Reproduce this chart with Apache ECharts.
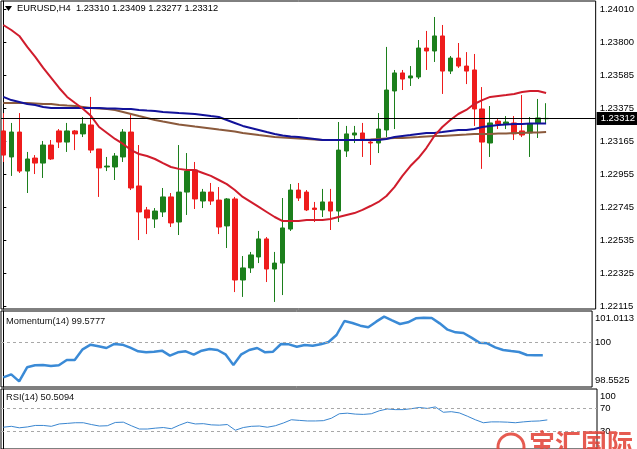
<!DOCTYPE html>
<html>
<head>
<meta charset="utf-8">
<script src="https://cdn.jsdelivr.net/npm/echarts@6/dist/echarts.min.js"></script>
<style>
html, body { margin: 0; padding: 0; background: #fff; }
#main { width: 637px; height: 449px; }
</style>
</head>
<body>
<div id="main"></div>
<script>
// EURUSD H4 - candles are [open, close, low, high]
var symbol = 'EURUSD,H4';
var candles = [
  [1.23232, 1.23078, 1.23034, 1.23346], [1.23066, 1.23225, 1.22945, 1.23283], [1.23225, 1.22976, 1.22964, 1.23346],
  [1.22976, 1.23053, 1.22836, 1.23098], [1.23059, 1.23027, 1.22957, 1.23078], [1.23027, 1.23142, 1.22932, 1.23168],
  [1.23142, 1.23053, 1.23047, 1.23174], [1.23232, 1.23161, 1.23123, 1.23244], [1.23161, 1.23232, 1.23098, 1.23283],
  [1.23232, 1.23213, 1.23110, 1.23238], [1.23213, 1.23276, 1.23193, 1.23321], [1.23270, 1.23110, 1.23091, 1.23449],
  [1.23117, 1.22996, 1.22811, 1.23117], [1.23002, 1.23008, 1.22976, 1.23066], [1.23002, 1.23072, 1.22919, 1.23091],
  [1.23066, 1.23225, 1.23034, 1.23244], [1.23225, 1.22868, 1.22855, 1.23334], [1.22881, 1.22715, 1.22536, 1.23142],
  [1.22728, 1.22677, 1.22574, 1.22747], [1.22670, 1.22721, 1.22613, 1.22740], [1.22715, 1.22811, 1.22683, 1.22868],
  [1.22811, 1.22645, 1.22619, 1.22836], [1.22651, 1.22842, 1.22568, 1.23142], [1.22842, 1.22976, 1.22696, 1.23091],
  [1.22983, 1.22798, 1.22734, 1.23034], [1.22785, 1.22842, 1.22740, 1.22862], [1.22842, 1.22785, 1.22760, 1.22900],
  [1.22791, 1.22619, 1.22574, 1.22874], [1.22626, 1.22798, 1.22485, 1.22804], [1.22798, 1.22281, 1.22204, 1.22811],
  [1.22281, 1.22358, 1.22173, 1.22434], [1.22358, 1.22441, 1.22326, 1.22460], [1.22428, 1.22543, 1.22389, 1.22594],
  [1.22543, 1.22351, 1.22268, 1.22555], [1.22351, 1.22389, 1.22141, 1.22460], [1.22389, 1.22613, 1.22185, 1.22804],
  [1.22606, 1.22855, 1.22594, 1.22893], [1.22855, 1.22804, 1.22785, 1.22900], [1.22842, 1.22728, 1.22721, 1.22855],
  [1.22740, 1.22731, 1.22651, 1.22779], [1.22728, 1.22779, 1.22683, 1.22862], [1.22779, 1.22721, 1.22600, 1.22862],
  [1.22721, 1.23110, 1.22651, 1.23289], [1.23104, 1.23213, 1.23066, 1.23264], [1.23206, 1.23219, 1.23155, 1.23264],
  [1.23219, 1.23181, 1.23066, 1.23283], [1.23161, 1.23155, 1.23015, 1.23174], [1.23155, 1.23244, 1.23091, 1.23346],
  [1.23238, 1.23493, 1.23193, 1.23768], [1.23487, 1.23602, 1.23244, 1.23621], [1.23602, 1.23563, 1.23493, 1.23621],
  [1.23570, 1.23583, 1.23519, 1.23646], [1.23576, 1.23761, 1.23563, 1.23812], [1.23761, 1.23742, 1.23621, 1.23870],
  [1.23742, 1.23838, 1.23672, 1.23959], [1.23838, 1.23614, 1.23468, 1.23908], [1.23614, 1.23697, 1.23595, 1.23710],
  [1.23697, 1.23646, 1.23634, 1.23793], [1.23646, 1.23614, 1.23531, 1.23735], [1.23621, 1.23372, 1.23264, 1.23723],
  [1.23372, 1.23161, 1.22990, 1.23512], [1.23155, 1.23283, 1.23066, 1.23391], [1.23295, 1.23276, 1.23244, 1.23308],
  [1.23276, 1.23289, 1.23244, 1.23327], [1.23283, 1.23213, 1.23174, 1.23327], [1.23232, 1.23206, 1.23193, 1.23461],
  [1.23219, 1.23276, 1.23066, 1.23321], [1.23283, 1.23315, 1.23187, 1.23436], [1.23310, 1.23312, 1.23277, 1.23409]
];

// moving averages (red fast, blue, brown slow)
var maRed = [1.23908, 1.23876, 1.23838, 1.23768, 1.23704, 1.23634, 1.23570, 1.23506, 1.23449, 1.23410,
  1.23372, 1.23327, 1.23257, 1.23219, 1.23181, 1.23149, 1.23110, 1.23085, 1.23072, 1.23053,
  1.23027, 1.23002, 1.22990, 1.22983, 1.22983, 1.22964, 1.22945, 1.22919, 1.22893, 1.22855,
  1.22811, 1.22779, 1.22747, 1.22715, 1.22683, 1.22657, 1.22657, 1.22657, 1.22664, 1.22664,
  1.22664, 1.22670, 1.22683, 1.22696, 1.22708, 1.22728, 1.22753, 1.22779, 1.22817, 1.22874,
  1.22945, 1.23008, 1.23059, 1.23123, 1.23200, 1.23257, 1.23302, 1.23340, 1.23366, 1.23404,
  1.23429, 1.23449, 1.23455, 1.23461, 1.23468, 1.23480, 1.23487, 1.23487, 1.23474];
var maBlue = [1.23449, 1.23429, 1.23417, 1.23404, 1.23398, 1.23385, 1.23378, 1.23378, 1.23378, 1.23378,
  1.23378, 1.23378, 1.23378, 1.23375, 1.23375, 1.23372, 1.23372, 1.23366, 1.23362, 1.23359,
  1.23353, 1.23350, 1.23346, 1.23343, 1.23340, 1.23334, 1.23327, 1.23321, 1.23302, 1.23283,
  1.23264, 1.23251, 1.23238, 1.23225, 1.23213, 1.23203, 1.23197, 1.23193, 1.23187, 1.23181,
  1.23174, 1.23174, 1.23174, 1.23174, 1.23174, 1.23174, 1.23174, 1.23174, 1.23181, 1.23193,
  1.23200, 1.23206, 1.23213, 1.23219, 1.23219, 1.23225, 1.23232, 1.23238, 1.23238, 1.23244,
  1.23257, 1.23264, 1.23270, 1.23273, 1.23276, 1.23276, 1.23280, 1.23280, 1.23280];
var maBrown = [1.23410, 1.23410, 1.23410, 1.23410, 1.23407, 1.23404, 1.23404, 1.23398, 1.23394, 1.23391,
  1.23385, 1.23378, 1.23375, 1.23372, 1.23366, 1.23353, 1.23340, 1.23327, 1.23315, 1.23302,
  1.23292, 1.23283, 1.23273, 1.23267, 1.23260, 1.23254, 1.23248, 1.23241, 1.23235, 1.23228,
  1.23219, 1.23213, 1.23206, 1.23200, 1.23193, 1.23190, 1.23187, 1.23184, 1.23181, 1.23177,
  1.23174, 1.23174, 1.23174, 1.23174, 1.23174, 1.23174, 1.23177, 1.23181, 1.23184, 1.23187,
  1.23187, 1.23190, 1.23193, 1.23197, 1.23200, 1.23200, 1.23203, 1.23206, 1.23209, 1.23213,
  1.23213, 1.23213, 1.23216, 1.23216, 1.23219, 1.23219, 1.23222, 1.23222, 1.23225];

var momentum = [98.865, 98.962, 98.736, 99.189, 99.254, 99.264, 99.232, 99.254, 99.426, 99.426,
  99.771, 99.922, 99.868, 99.814, 99.944, 99.922, 99.825, 99.706, 99.674, 99.696,
  99.728, 99.566, 99.674, 99.706, 99.599, 99.728, 99.782, 99.750, 99.609, 99.264,
  99.609, 99.750, 99.814, 99.674, 99.696, 99.944, 99.933, 99.857, 99.911, 99.890,
  99.933, 100.008, 100.235, 100.688, 100.623, 100.537, 100.483, 100.666, 100.828, 100.709,
  100.591, 100.645, 100.774, 100.796, 100.785, 100.612, 100.407, 100.321, 100.300, 100.149,
  99.987, 99.965, 99.836, 99.750, 99.717, 99.685, 99.588, 99.577, 99.5777];
var rsi = [37.8, 39.4, 36.8, 38.3, 40.9, 40.9, 39.4, 43.5, 44.5, 45.6,
  45.6, 42.5, 39.9, 40.4, 46.1, 46.6, 40.4, 34.7, 34.7, 36.2,
  37.3, 35.2, 41.4, 46.6, 43.5, 44.0, 41.9, 41.4, 42.5, 32.6,
  37.3, 39.4, 39.9, 37.8, 40.4, 45.1, 50.8, 49.7, 48.7, 48.7,
  49.2, 53.4, 61.2, 62.2, 60.6, 60.1, 61.2, 66.4, 69.5, 68.4,
  68.4, 70.0, 72.1, 70.5, 73.1, 63.8, 64.8, 62.7, 57.0, 50.8,
  45.6, 47.1, 47.1, 46.6, 45.6, 47.1, 48.2, 48.7, 50.5094];

// tick labels
var priceTicks = [1.22115, 1.22325, 1.22535, 1.22745, 1.22955, 1.23165, 1.23375, 1.23585, 1.23800, 1.24010];
var momTicks = [98.5525, 100, 101.0113];
var rsiTicks = [30, 70, 100];
var rsiLevels = [30, 70];

var font = 'Liberation Sans, Arial, sans-serif';
var upColor = '#1c7f1c';
var downColor = '#ee1c1c';

var last = candles[candles.length - 1];
var lastClose = last[1];

function withIndex(arr) {
  return arr.map(function (v, i) { return [i].concat(v); });
}

var xMin = -0.29, xMax = xMin + 596 / 8;

var myChart = echarts.init(document.getElementById('main'), null, { renderer: 'canvas' });

function xAxisFor(idx) {
  return { type: 'value', gridIndex: idx, min: xMin, max: xMax, show: false };
}

var option = {
  animation: false,
  backgroundColor: '#fff',
  grid: [
    { left: 1, top: 1, width: 596, height: 308, show: true, borderColor: '#000', borderWidth: 1 },
    { left: 1, top: 311, width: 596, height: 76, show: true, borderColor: '#000', borderWidth: 1 },
    { left: 1, top: 389, width: 596, height: 67, show: true, borderColor: '#000', borderWidth: 1 }
  ],
  xAxis: [xAxisFor(0), xAxisFor(1), xAxisFor(2)],
  yAxis: [
    {
      type: 'value', gridIndex: 0, position: 'right', min: 1.22096, max: 1.24061,
      axisLine: { show: true, lineStyle: { color: '#000' } },
      axisTick: { show: true, length: 3, customValues: priceTicks, lineStyle: { color: '#000' } },
      axisLabel: {
        customValues: priceTicks, margin: 4, color: '#000', fontSize: 9.5, fontFamily: font,
        formatter: function (v) { return v.toFixed(5); }
      },
      splitLine: { show: false }
    },
    {
      type: 'value', gridIndex: 1, position: 'right', min: momTicks[0], max: momTicks[2],
      axisLine: { show: true, lineStyle: { color: '#000' } },
      axisTick: { show: false },
      axisLabel: {
        customValues: momTicks, margin: 3, color: '#000', fontSize: 9.5, fontFamily: font,
        formatter: function (v) {
          if (v === momTicks[2]) return '{lo|' + v + '}';
          if (v === momTicks[0]) return '{hi|' + v + '}';
          return '{n|' + v + '}';
        },
        rich: {
          lo: { padding: [14, 0, 0, 0], fontSize: 9.5, fontFamily: font, color: '#000' },
          hi: { padding: [0, 0, 14, 0], fontSize: 9.5, fontFamily: font, color: '#000' },
          n: { fontSize: 9.5, fontFamily: font, color: '#000' }
        }
      },
      splitLine: { show: false }
    },
    {
      type: 'value', gridIndex: 2, position: 'right', min: 0, max: 104.2,
      axisLine: { show: true, lineStyle: { color: '#000' } },
      axisTick: { show: false },
      axisLabel: {
        customValues: rsiTicks, margin: 3, color: '#000', fontSize: 9.5, fontFamily: font,
        formatter: function (v) {
          return v === 100 ? '{lo|' + v + '}' : '{n|' + v + '}';
        },
        rich: {
          lo: { padding: [10, 0, 0, 0], fontSize: 9.5, fontFamily: font, color: '#000' },
          n: { fontSize: 9.5, fontFamily: font, color: '#000' }
        }
      },
      splitLine: { show: false }
    }
  ],
  series: [
    {
      type: 'candlestick', xAxisIndex: 0, yAxisIndex: 0,
      encode: { x: 0, y: [1, 2, 3, 4] },
      data: withIndex(candles),
      barWidth: 5,
      itemStyle: { color: upColor, color0: downColor, borderColor: upColor, borderColor0: downColor, borderWidth: 1 }
    },
    {
      type: 'line', xAxisIndex: 0, yAxisIndex: 0, data: withIndex(maBrown), showSymbol: false,
      lineStyle: { color: '#8b5a3c', width: 2 },
      // current price line with its black tag on the axis
      markLine: {
        silent: true, symbol: ['none', 'none'], animation: false, precision: 5,
        lineStyle: { color: '#000', width: 1, type: 'solid' },
        label: {
          show: true, position: 'end', distance: 1, color: '#fff', backgroundColor: '#000',
          padding: [2, 4, 1, 4], fontSize: 9.5, fontFamily: font,
          formatter: function () { return lastClose.toFixed(5); }
        },
        data: [{ yAxis: lastClose }]
      }
    },
    { type: 'line', xAxisIndex: 0, yAxisIndex: 0, data: withIndex(maBlue), showSymbol: false, lineStyle: { color: '#12129a', width: 2 } },
    { type: 'line', xAxisIndex: 0, yAxisIndex: 0, data: withIndex(maRed), showSymbol: false, lineStyle: { color: '#d01c2c', width: 2 } },
    {
      type: 'line', xAxisIndex: 1, yAxisIndex: 1, data: withIndex(momentum), showSymbol: false,
      lineStyle: { color: '#3a8ad6', width: 2.5 },
      markLine: {
        silent: true, symbol: ['none', 'none'], label: { show: false }, precision: 4,
        lineStyle: { color: '#a8a8a8', width: 1, type: [3, 3] },
        data: [{ yAxis: 100 }]
      }
    },
    {
      type: 'line', xAxisIndex: 2, yAxisIndex: 2, data: withIndex(rsi), showSymbol: false,
      lineStyle: { color: '#3a86d0', width: 1 },
      markLine: {
        silent: true, symbol: ['none', 'none'], label: { show: false },
        lineStyle: { color: '#a8a8a8', width: 1, type: [3, 3] },
        data: rsiLevels.map(function (v) { return { yAxis: v }; })
      }
    }
  ],
  graphic: [
    { type: 'polygon', shape: { points: [[5, 6], [12, 6], [8.5, 11]] }, style: { fill: '#000' } },
    {
      type: 'text', left: 17, top: 4,
      style: {
        text: symbol + '  ' + [last[0], last[3], last[2], last[1]].map(function (v) { return v.toFixed(5); }).join(' '),
        fill: '#000', font: '9.3px ' + font
      }
    },
    {
      type: 'text', left: 6, top: 317,
      style: { text: 'Momentum(14) ' + momentum[momentum.length - 1].toFixed(4), fill: '#111', font: '9.3px ' + font }
    },
    {
      type: 'text', left: 6, top: 393,
      style: { text: 'RSI(14) ' + rsi[rsi.length - 1].toFixed(4), fill: '#111', font: '9.3px ' + font }
    },
    // watermark
    {
      type: 'circle', shape: { cx: 511, cy: 447, r: 13 },
      style: { fill: 'none', stroke: 'rgba(226,62,50,0.85)', lineWidth: 3 }, z: 100
    },
    {
      type: 'text', left: 529, top: 430, z: 100,
      style: { text: '宝汇国际', fill: 'rgba(226,62,50,0.85)', font: 'bold 26px "Noto Sans CJK SC"' }
    }
  ]
};

option && myChart.setOption(option);
</script>
</body>
</html>
